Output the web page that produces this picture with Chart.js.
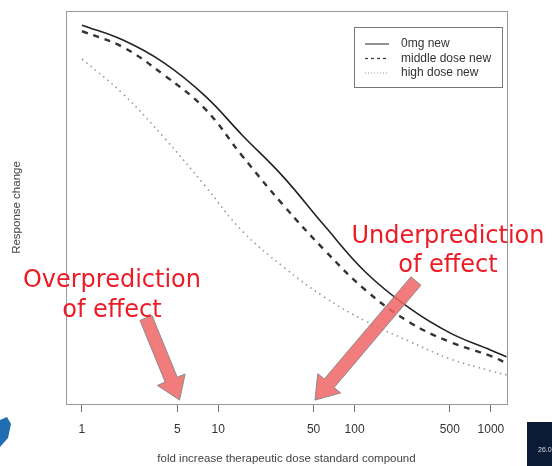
<!DOCTYPE html>
<html>
<head>
<meta charset="utf-8">
<script src="https://cdn.jsdelivr.net/npm/chart.js@4/dist/chart.umd.min.js"></script>
<style>
  html, body { margin: 0; padding: 0; background: #fff; }
  #wrap { width: 552px; height: 466px; }
</style>
</head>
<body>
<div id="wrap"><canvas id="grafica" width="552" height="466"></canvas></div>
<script>
// dose (fold increase) and response values
var dosis = [1, 2, 4, 8, 15, 30, 60, 120, 250, 500, 1000, 1300];
var sinDosis = [96.4, 92.6, 86.8, 78.4, 68.4, 57.8, 45.4, 33.6, 24.5, 18.1, 13.7, 12.0];
var dosisMedia = [94.9, 90.8, 83.7, 75.1, 63.1, 50.6, 39.2, 29.0, 20.9, 15.8, 12.2, 10.4];
var dosisAlta = [87.8, 78.9, 67.8, 55.5, 44.0, 34.9, 27.2, 21.1, 16.0, 11.5, 8.4, 7.4];
var etiquetasX = [1, 5, 10, 50, 100, 500, 1000];
var nombres = ['0mg new', 'middle dose new', 'high dose new'];

// annotation text and arrows (dose, response)
var textos = [
    { lineas: ['Overprediction', 'of effect'], x: 1.66, y: [29.8, 22.1] },
    { lineas: ['Underprediction', 'of effect'], x: 484, y: [41.0, 33.6] }
];
var flechas = [
    { desde: [2.95, 21.9], hasta: [5.2, 1.0] },
    { desde: [282, 31.3], hasta: [51.2, 1.0] }
];

function puntos(valores) {
    return dosis.map(function (d, i) { return { x: d, y: valores[i] }; });
}

var marco = {
    id: 'marco',
    afterDatasetsDraw: function (chart) {
        var ctx = chart.ctx, a = chart.chartArea;
        ctx.save();
        ctx.strokeStyle = '#9a9a9a';
        ctx.lineWidth = 1;
        ctx.strokeRect(a.left + 0.5, a.top + 0.5, a.right - a.left, a.bottom - a.top);

        // legend box
        var lx = 354, ly = 27;
        ctx.strokeStyle = '#777';
        ctx.strokeRect(lx + 0.5, ly + 0.5, 148, 60);
        ctx.font = '12px "Liberation Sans", Arial, sans-serif';
        ctx.textBaseline = 'middle';
        chart.data.datasets.forEach(function (ds, i) {
            var yy = 44 + i * 14.5;
            ctx.beginPath();
            ctx.strokeStyle = ds.borderColor;
            ctx.lineWidth = i === 1 ? 1.2 : 1;
            ctx.setLineDash(i === 1 ? [3, 3] : (i === 2 ? [1, 2] : []));
            ctx.moveTo(365, yy);
            ctx.lineTo(389, yy);
            ctx.stroke();
            ctx.setLineDash([]);
            ctx.fillStyle = '#333';
            ctx.fillText(ds.label, 401, yy);
        });
        ctx.restore();
    },
    afterDraw: function (chart) {
        var ctx = chart.ctx, sx = chart.scales.x, sy = chart.scales.y;
        ctx.save();
        // arrows
        flechas.forEach(function (f) {
            var x0 = sx.getPixelForValue(f.desde[0]), y0 = sy.getPixelForValue(f.desde[1]);
            var x1 = sx.getPixelForValue(f.hasta[0]), y1 = sy.getPixelForValue(f.hasta[1]);
            var dx = x1 - x0, dy = y1 - y0, len = Math.sqrt(dx * dx + dy * dy);
            var ux = dx / len, uy = dy / len, px = -uy, py = ux;
            var w = 6.5, hw = 15, hl = 22;
            var bx = x1 - ux * hl, by = y1 - uy * hl;
            ctx.beginPath();
            ctx.moveTo(x0 + px * w, y0 + py * w);
            ctx.lineTo(bx + px * w, by + py * w);
            ctx.lineTo(bx + px * hw, by + py * hw);
            ctx.lineTo(x1, y1);
            ctx.lineTo(bx - px * hw, by - py * hw);
            ctx.lineTo(bx - px * w, by - py * w);
            ctx.lineTo(x0 - px * w, y0 - py * w);
            ctx.closePath();
            ctx.fillStyle = 'rgba(240, 100, 100, 0.85)';
            ctx.fill();
            ctx.strokeStyle = '#8a8a8a';
            ctx.lineWidth = 1;
            ctx.stroke();
        });
        // red text
        ctx.fillStyle = 'rgb(235, 28, 38)';
        ctx.font = '24px "DejaVu Sans", Verdana, sans-serif';
        ctx.textAlign = 'center';
        ctx.textBaseline = 'alphabetic';
        textos.forEach(function (t) {
            var x = sx.getPixelForValue(t.x);
            t.lineas.forEach(function (l, i) {
                ctx.fillText(l, x, sy.getPixelForValue(t.y[i]));
            });
        });
        // slide leftovers: logo edge and dark page box
        ctx.fillStyle = '#1f6db3';
        ctx.beginPath();
        ctx.moveTo(0, 420);
        ctx.lineTo(7, 417);
        ctx.lineTo(11, 424);
        ctx.lineTo(8, 438);
        ctx.lineTo(0, 447);
        ctx.closePath();
        ctx.fill();
        ctx.fillStyle = '#0b1a35';
        ctx.fillRect(527, 422, 25, 44);
        ctx.fillStyle = '#ddd';
        ctx.font = '7px "Liberation Sans", Arial, sans-serif';
        ctx.textAlign = 'left';
        ctx.fillText('26.0', 538, 452);
        ctx.restore();
    }
};

var ctx = document.getElementById('grafica').getContext('2d');
var myChart = new Chart(ctx, {
    type: 'line',
    data: {
        datasets: [{
            label: nombres[0],
            data: puntos(sinDosis),
            borderColor: '#222',
            borderWidth: 1.6,
            pointRadius: 0,
            tension: 0.4,
            fill: false
        }, {
            label: nombres[1],
            data: puntos(dosisMedia),
            borderColor: '#333',
            borderWidth: 2.4,
            borderDash: [6, 6],
            pointRadius: 0,
            tension: 0.4,
            fill: false
        }, {
            label: nombres[2],
            data: puntos(dosisAlta),
            borderColor: '#999',
            borderWidth: 1.6,
            borderDash: [1.5, 4],
            pointRadius: 0,
            tension: 0.4,
            fill: false
        }]
    },
    options: {
        responsive: false,
        animation: false,
        layout: { padding: { left: 6, right: 45, top: 11, bottom: 0 } },
        plugins: { legend: { display: false }, tooltip: { enabled: false } },
        scales: {
            x: {
                type: 'logarithmic',
                position: 'bottom',
                min: 0.764,
                max: 1312,
                afterBuildTicks: function (scale) {
                    scale.ticks = etiquetasX.map(function (v) { return { value: v }; });
                },
                afterFit: function (scale) { scale.height = 62; },
                ticks: {
                    autoSkip: false,
                    maxRotation: 0,
                    padding: 10,
                    color: '#333',
                    font: { family: '"Liberation Sans", Arial, sans-serif', size: 12 },
                    callback: function (v) { return String(v); }
                },
                grid: { drawOnChartArea: false, tickLength: 8, tickColor: '#777' },
                border: { display: false },
                title: {
                    display: true,
                    text: 'fold increase therapeutic dose standard compound',
                    color: '#444',
                    padding: { top: 0, bottom: 0 },
                    font: { family: '"Liberation Sans", Arial, sans-serif', size: 11.5 }
                }
            },
            y: {
                type: 'linear',
                min: 0,
                max: 100,
                afterFit: function (scale) { scale.width = 60; },
                ticks: { display: false },
                grid: { display: false },
                border: { display: false },
                title: {
                    display: true,
                    text: 'Response change',
                    color: '#444',
                    font: { family: '"Liberation Sans", Arial, sans-serif', size: 11.5 }
                }
            }
        }
    },
    plugins: [marco]
});
</script>
</body>
</html>
